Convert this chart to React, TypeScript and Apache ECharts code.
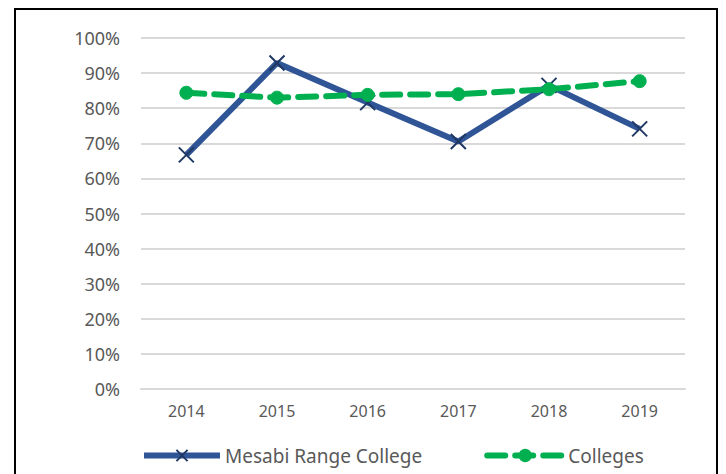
import React, { useEffect, useRef } from "react";
import * as echarts from "echarts";

const years = ["2014", "2015", "2016", "2017", "2018", "2019"];
const mesabi = [66.7, 92.9, 81.6, 70.5, 86.5, 74.1];
const colleges = [84.4, 83.0, 83.8, 84.0, 85.4, 87.7];
const seriesNames = ["Mesabi Range College", "Colleges"];

const FONT = "'Noto Sans', sans-serif";

export default function App() {
  const ref = useRef<HTMLDivElement>(null);
  useEffect(() => {
    if (!ref.current) return;
    const chart = echarts.init(ref.current, undefined, { renderer: "svg" });
    chart.setOption({
      animation: false,
      backgroundColor: "#ffffff",
      textStyle: { fontFamily: FONT },
      graphic: [
        {
          type: "rect",
          shape: { x: 15, y: 9, width: 702, height: 480 },
          style: { fill: "none", stroke: "#000000", lineWidth: 2 },
          silent: true,
        },
      ],
      grid: { left: 141, right: 41, top: 38, bottom: 85, containLabel: false },
      legend: {
        left: 136,
        top: 441,
        itemWidth: 76,
        itemHeight: 14,
        itemGap: 62,
        lineStyle: { width: 6 },
        textStyle: { color: "#595959", fontSize: 19, fontFamily: FONT },
        data: [
          { name: seriesNames[0], itemStyle: { borderWidth: 2 } },
          { name: seriesNames[1] },
        ],
      },
      xAxis: {
        type: "category",
        data: years,
        boundaryGap: true,
        axisLine: { show: true, lineStyle: { color: "#D9D9D9", width: 2 } },
        axisTick: { show: false },
        axisLabel: { color: "#595959", fontSize: 16, margin: 14, fontFamily: FONT },
      },
      yAxis: {
        type: "value",
        min: 0,
        max: 100,
        interval: 10,
        axisLine: { show: false },
        axisTick: { show: false },
        axisLabel: {
          color: "#595959",
          fontSize: 18,
          margin: 21,
          fontFamily: FONT,
          formatter: (v: number) => `${v}%`,
        },
        splitLine: { lineStyle: { color: "#D9D9D9", width: 2 } },
      },
      series: [
        {
          name: seriesNames[0],
          type: "line",
          data: mesabi,
          lineStyle: { color: "#2F5597", width: 6 },
          symbol: "path://M0,0L10,10M10,0L0,10",
          symbolSize: 15,
          itemStyle: { color: "rgba(0,0,0,0)", borderColor: "#1F3864", borderWidth: 2 },
          z: 2,
        },
        {
          name: seriesNames[1],
          type: "line",
          data: colleges,
          lineStyle: { color: "#00B050", width: 6, type: [18, 10], cap: "round" },
          symbol: "circle",
          symbolSize: 13,
          itemStyle: { color: "#00B050", borderColor: "#00B050", borderWidth: 1 },
          z: 3,
        },
      ],
    });
    return () => chart.dispose();
  }, []);
  return (
    <div
      ref={ref}
      style={{ position: "fixed", left: 0, top: 0, width: 726, height: 474 }}
    />
  );
}
